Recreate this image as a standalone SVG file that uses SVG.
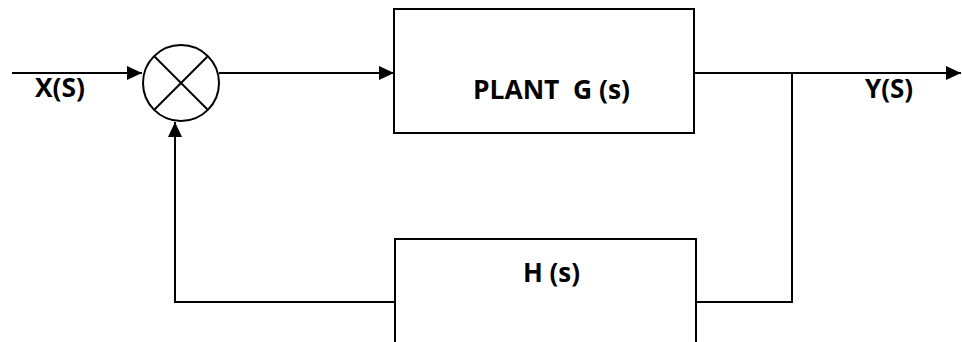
<svg xmlns="http://www.w3.org/2000/svg" width="962" height="342" viewBox="0 0 962 342">
<style>
.ln{fill:none;stroke:#000;stroke-width:2}
.bx{fill:#fff;stroke:#000;stroke-width:2}
.lb{font-family:"Open Sans","Liberation Sans",Arial,sans-serif;font-weight:bold;font-size:26px;fill:#000;white-space:pre}
</style>
<defs>
<marker id="ah" markerUnits="userSpaceOnUse" markerWidth="16" markerHeight="14" refX="15" refY="7" orient="auto">
<path d="M0,0 L15,7 L0,14 z" fill="#000"/>
</marker>
</defs>
<rect width="962" height="342" fill="#fff"/>
<g id="connectors">
<line class="ln" x1="12" y1="73" x2="142" y2="73" marker-end="url(#ah)"/>
<line class="ln" x1="219" y1="73" x2="394" y2="73" marker-end="url(#ah)"/>
<line class="ln" x1="694" y1="73" x2="961" y2="73" marker-end="url(#ah)"/>
<polyline class="ln" points="792,73 792,302 696,302"/>
<polyline class="ln" points="395,302 175,302 175,122" marker-end="url(#ah)"/>
</g>
<g id="summer">
<circle class="ln" cx="181" cy="83" r="38"/>
<line class="ln" x1="154" y1="56" x2="208" y2="110"/>
<line class="ln" x1="208" y1="56" x2="154" y2="110"/>
</g>
<g id="plant">
<rect class="bx" x="394" y="9" width="300" height="124"/>
<text class="lb" x="473" y="99" textLength="157" lengthAdjust="spacingAndGlyphs" xml:space="preserve">PLANT  G (s)</text>
</g>
<g id="feedback">
<rect class="bx" x="395" y="239" width="301" height="120"/>
<text class="lb" x="523" y="282" textLength="57" lengthAdjust="spacingAndGlyphs" xml:space="preserve">H (s)</text>
</g>
<g id="labels">
<text class="lb" x="35" y="97" textLength="50" lengthAdjust="spacingAndGlyphs">X(S)</text>
<text class="lb" x="865" y="98" textLength="48" lengthAdjust="spacingAndGlyphs">Y(S)</text>
</g>
</svg>
